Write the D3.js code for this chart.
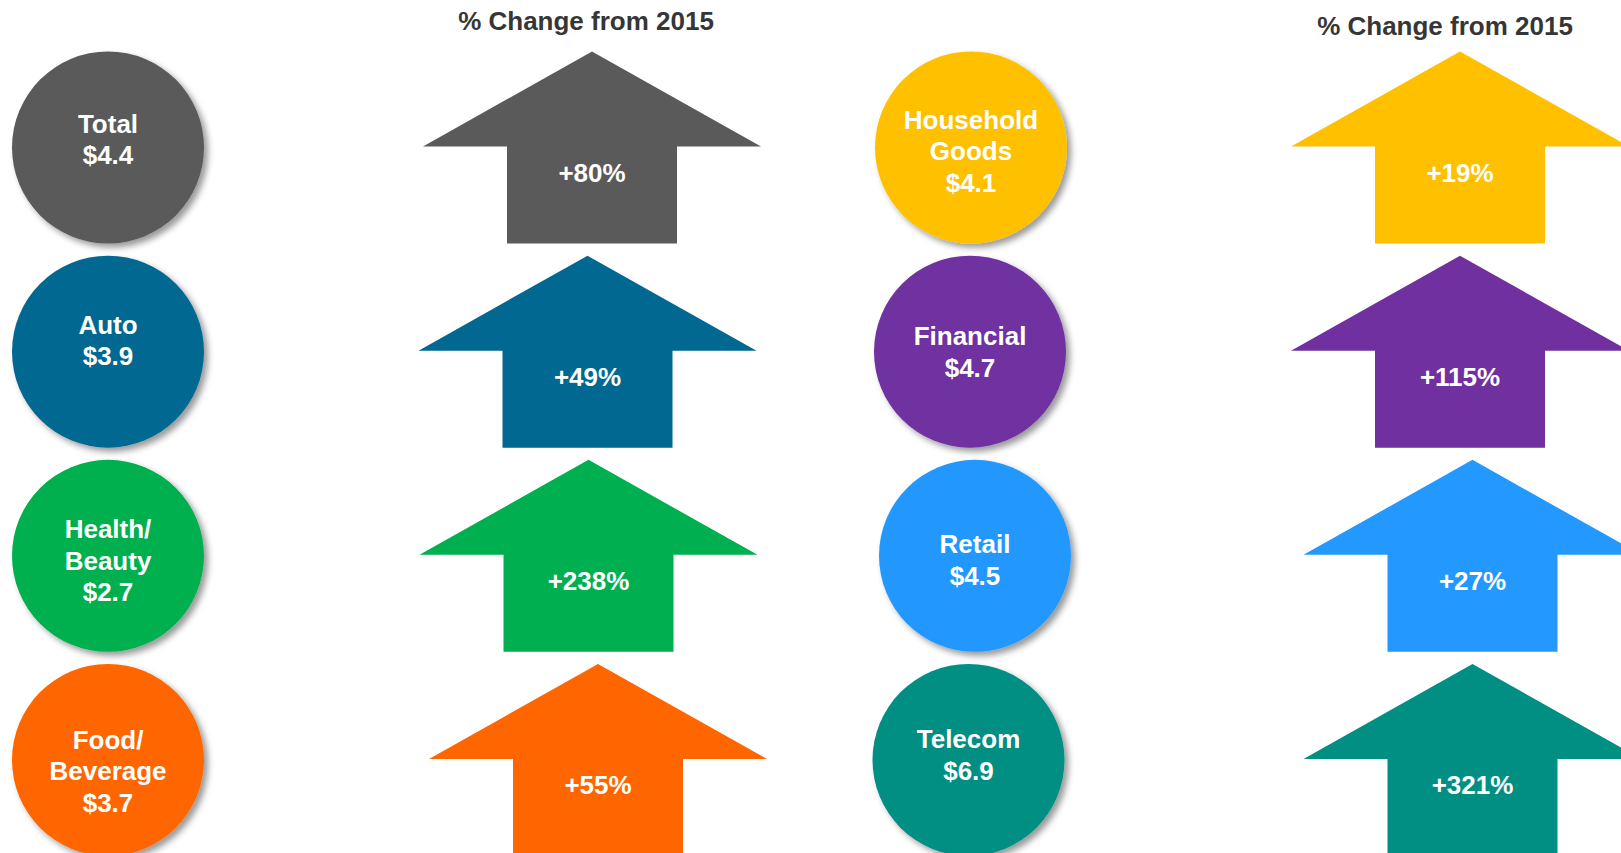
<!DOCTYPE html>
<html>
<head>
<meta charset="utf-8">
<script src="https://cdn.jsdelivr.net/npm/d3@7"></script>
<style>
  html, body { margin: 0; padding: 0; background: #fff; overflow: hidden; }
  svg { display: block; }
</style>
</head>
<body>
<svg id="chart"></svg>
<script>
// Data
const categories = ['Total', 'Auto', 'Health/Beauty', 'Food/Beverage', 'Household Goods', 'Financial', 'Retail', 'Telecom'];
const labelLines = [['Total'], ['Auto'], ['Health/', 'Beauty'], ['Food/', 'Beverage'], ['Household', 'Goods'], ['Financial'], ['Retail'], ['Telecom']];
const spend = [4.4, 3.9, 2.7, 3.7, 4.1, 4.7, 4.5, 6.9];
const pctChange = [80, 49, 238, 55, 19, 115, 27, 321];
const colors = ['#5a5a5a', '#006891', '#00b050', '#ff6600', '#ffc000', '#7030a0', '#2398ff', '#008f82'];
const panels = ['left', 'right'];
const rows = [0, 1, 2, 3];
const headerText = '% Change from 2015';

// Layout nudges (px) so things sit where the slide had them
const circleNudgeX = [0, 0, 0, 0, 1, 0, 5, -1.5];
const arrowNudgeX = [2, -2.5, -1.5, 8, 0, 0, 12.5, 12.5];
const textNudgeY = [-15, -18, -18, -11.5, -19, -6.5, -2.5, -12];

const width = 1621;
const height = 853;

const svg = d3.select('#chart')
  .attr('width', width)
  .attr('height', height)
  .attr('viewBox', `0 0 ${width} ${height}`);

const defs = svg.append('defs');
defs.append('filter')
  .attr('id', 'shadow')
  .attr('x', '-20%').attr('y', '-20%')
  .attr('width', '150%').attr('height', '150%')
  .append('feDropShadow')
  .attr('dx', 4)
  .attr('dy', 4)
  .attr('stdDeviation', 3)
  .attr('flood-color', '#000')
  .attr('flood-opacity', 0.4);

const items = categories.map((c, i) => ({
  category: c,
  lines: labelLines[i],
  spend: spend[i],
  pct: pctChange[i],
  color: colors[i],
  panel: panels[Math.floor(i / 4)],
  row: rows[i % 4],
  i
}));

// Scales
const yRow = d3.scalePoint().domain(rows).range([147.5, 760]);
const xCircle = d3.scalePoint().domain(panels).range([108, 970]);
const xArrow = d3.scalePoint().domain(panels).range([590, 1460]);
const xHeader = d3.scalePoint().domain(panels).range([586, 1445]);
const yHeader = d3.scalePoint().domain(panels).range([30, 35]);

const font = 'Liberation Sans, Arial, Helvetica, sans-serif';
const r = 96;
const headHalf = 169;
const shaftHalf = 85;
const headH = 95;
const arrowH = 192;

function arrowPath(cx, cy) {
  const top = cy - arrowH / 2;
  const base = top + headH;
  const bottom = cy + arrowH / 2;
  return `M${cx},${top} L${cx + headHalf},${base} L${cx + shaftHalf},${base} L${cx + shaftHalf},${bottom}` +
    ` L${cx - shaftHalf},${bottom} L${cx - shaftHalf},${base} L${cx - headHalf},${base} Z`;
}

// Headers
svg.selectAll('.header')
  .data(panels)
  .join('text')
  .attr('class', 'header')
  .attr('x', d => xHeader(d))
  .attr('y', d => yHeader(d))
  .attr('text-anchor', 'middle')
  .style('font-family', font)
  .style('font-weight', 'bold')
  .style('font-size', '26px')
  .attr('fill', '#363636')
  .text(headerText);

// Arrows
const arrows = svg.selectAll('.arrow')
  .data(items)
  .join('g')
  .attr('class', 'arrow');

arrows.append('path')
  .attr('d', d => arrowPath(xArrow(d.panel) + arrowNudgeX[d.i], yRow(d.row)))
  .attr('fill', d => d.color);

arrows.append('text')
  .attr('x', d => xArrow(d.panel) + arrowNudgeX[d.i])
  .attr('y', d => yRow(d.row) + 34)
  .attr('text-anchor', 'middle')
  .style('font-family', font)
  .style('font-weight', 'bold')
  .style('font-size', '26px')
  .attr('fill', '#fff')
  .text(d => `+${d.pct}%`);

// Circles
const bubbles = svg.selectAll('.bubble')
  .data(items)
  .join('g')
  .attr('class', 'bubble')
  .attr('transform', d => `translate(${xCircle(d.panel) + circleNudgeX[d.i]},${yRow(d.row)})`);

bubbles.append('circle')
  .attr('r', r)
  .attr('fill', d => d.color)
  .attr('filter', 'url(#shadow)');

bubbles.append('text')
  .attr('text-anchor', 'middle')
  .style('font-family', font)
  .style('font-weight', 'bold')
  .style('font-size', '26px')
  .attr('fill', '#fff')
  .selectAll('tspan')
  .data(d => [...d.lines, `$${d.spend.toFixed(1)}`].map((t, k) => ({ t, k, d })))
  .join('tspan')
  .attr('x', 0)
  .attr('y', o => textNudgeY[o.d.i] + o.k * 31.8)
  .text(o => o.t);
</script>
</body>
</html>
